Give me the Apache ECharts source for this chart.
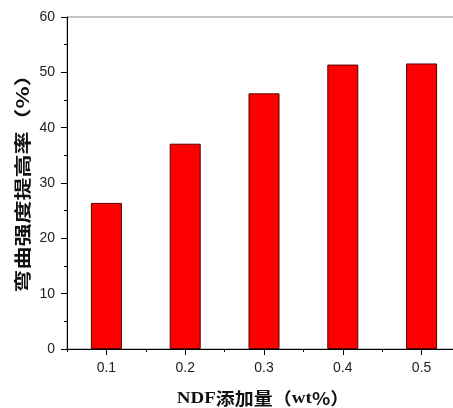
<!DOCTYPE html>
<html>
<head>
<meta charset="utf-8">
<script src="https://cdn.jsdelivr.net/npm/echarts@6/dist/echarts.min.js"></script>
<style>html,body{margin:0;padding:0;background:#fff;overflow:hidden;width:453px;height:408px;}#c{width:462px;height:408px;}</style>
</head>
<body>
<div id="c"></div>
<script>
const categories = ['0.1', '0.2', '0.3', '0.4', '0.5'];
const values = [26.4, 37.1, 46.2, 51.4, 51.6];
const yTitle = '弯曲强度提高率（%）';
const xTitle = '{a|NDF}添加量（{a|wt}%）';

const chart = echarts.init(document.getElementById('c'), null, {renderer: 'canvas'});
chart.setOption({
  animation: false,
  backgroundColor: '#fff',
  grid: {left: 67, top: 17, bottom: 59, right: 1, show: true, borderColor: '#8a8a8a', borderWidth: 1, backgroundColor: 'transparent'},
  xAxis: [{
    type: 'category', data: categories, position: 'bottom', boundaryGap: true,
    axisLine: {lineStyle: {color: '#000', width: 1}},
    axisTick: {show: true, alignWithLabel: true, inside: false, length: 6, lineStyle: {color: '#000'}},
    axisLabel: {fontFamily: 'Liberation Sans', fontSize: 14, color: '#222', margin: 12},
    splitLine: {show: false}
  }, {
    type: 'category', data: categories, position: 'bottom', boundaryGap: true, offset: 0,
    axisLine: {show: false},
    axisTick: {show: true, alignWithLabel: false, length: 3, lineStyle: {color: '#000'}},
    axisLabel: {show: false},
    splitLine: {show: false}
  }],
  yAxis: {
    type: 'value', min: 0, max: 60, interval: 10,
    axisLine: {show: true, lineStyle: {color: '#000', width: 1}},
    axisTick: {show: true, length: 6, lineStyle: {color: '#000'}},
    minorTick: {show: true, splitNumber: 2, length: 3, lineStyle: {color: '#000'}},
    axisLabel: {fontFamily: 'Liberation Sans', fontSize: 14, color: '#222', margin: 12},
    splitLine: {show: false}
  },
  series: [{
    type: 'bar', data: values, barWidth: 31, xAxisIndex: 0,
    itemStyle: {color: '#ff0000', borderColor: '#5a0000', borderWidth: 1}
  }],
  graphic: [{
    type: 'text', x: 22, y: 178, rotation: Math.PI / 2, scaleY: 0.75,
    style: {text: yTitle, fontFamily: 'Noto Sans CJK SC', fontWeight: 'bold', fontSize: 23, fill: '#111', align: 'center', verticalAlign: 'middle'}
  }, {
    type: 'text', x: 263, y: 399, scaleY: 0.9,
    style: {text: xTitle, fontFamily: 'Noto Sans CJK SC', fontWeight: 'bold', fontSize: 19, fill: '#111', align: 'center', verticalAlign: 'middle',
      rich: {a: {fontFamily: 'Liberation Serif', fontWeight: 'bold', fontSize: 19, fill: '#111'}}}
  }]
});
</script>
</body>
</html>
